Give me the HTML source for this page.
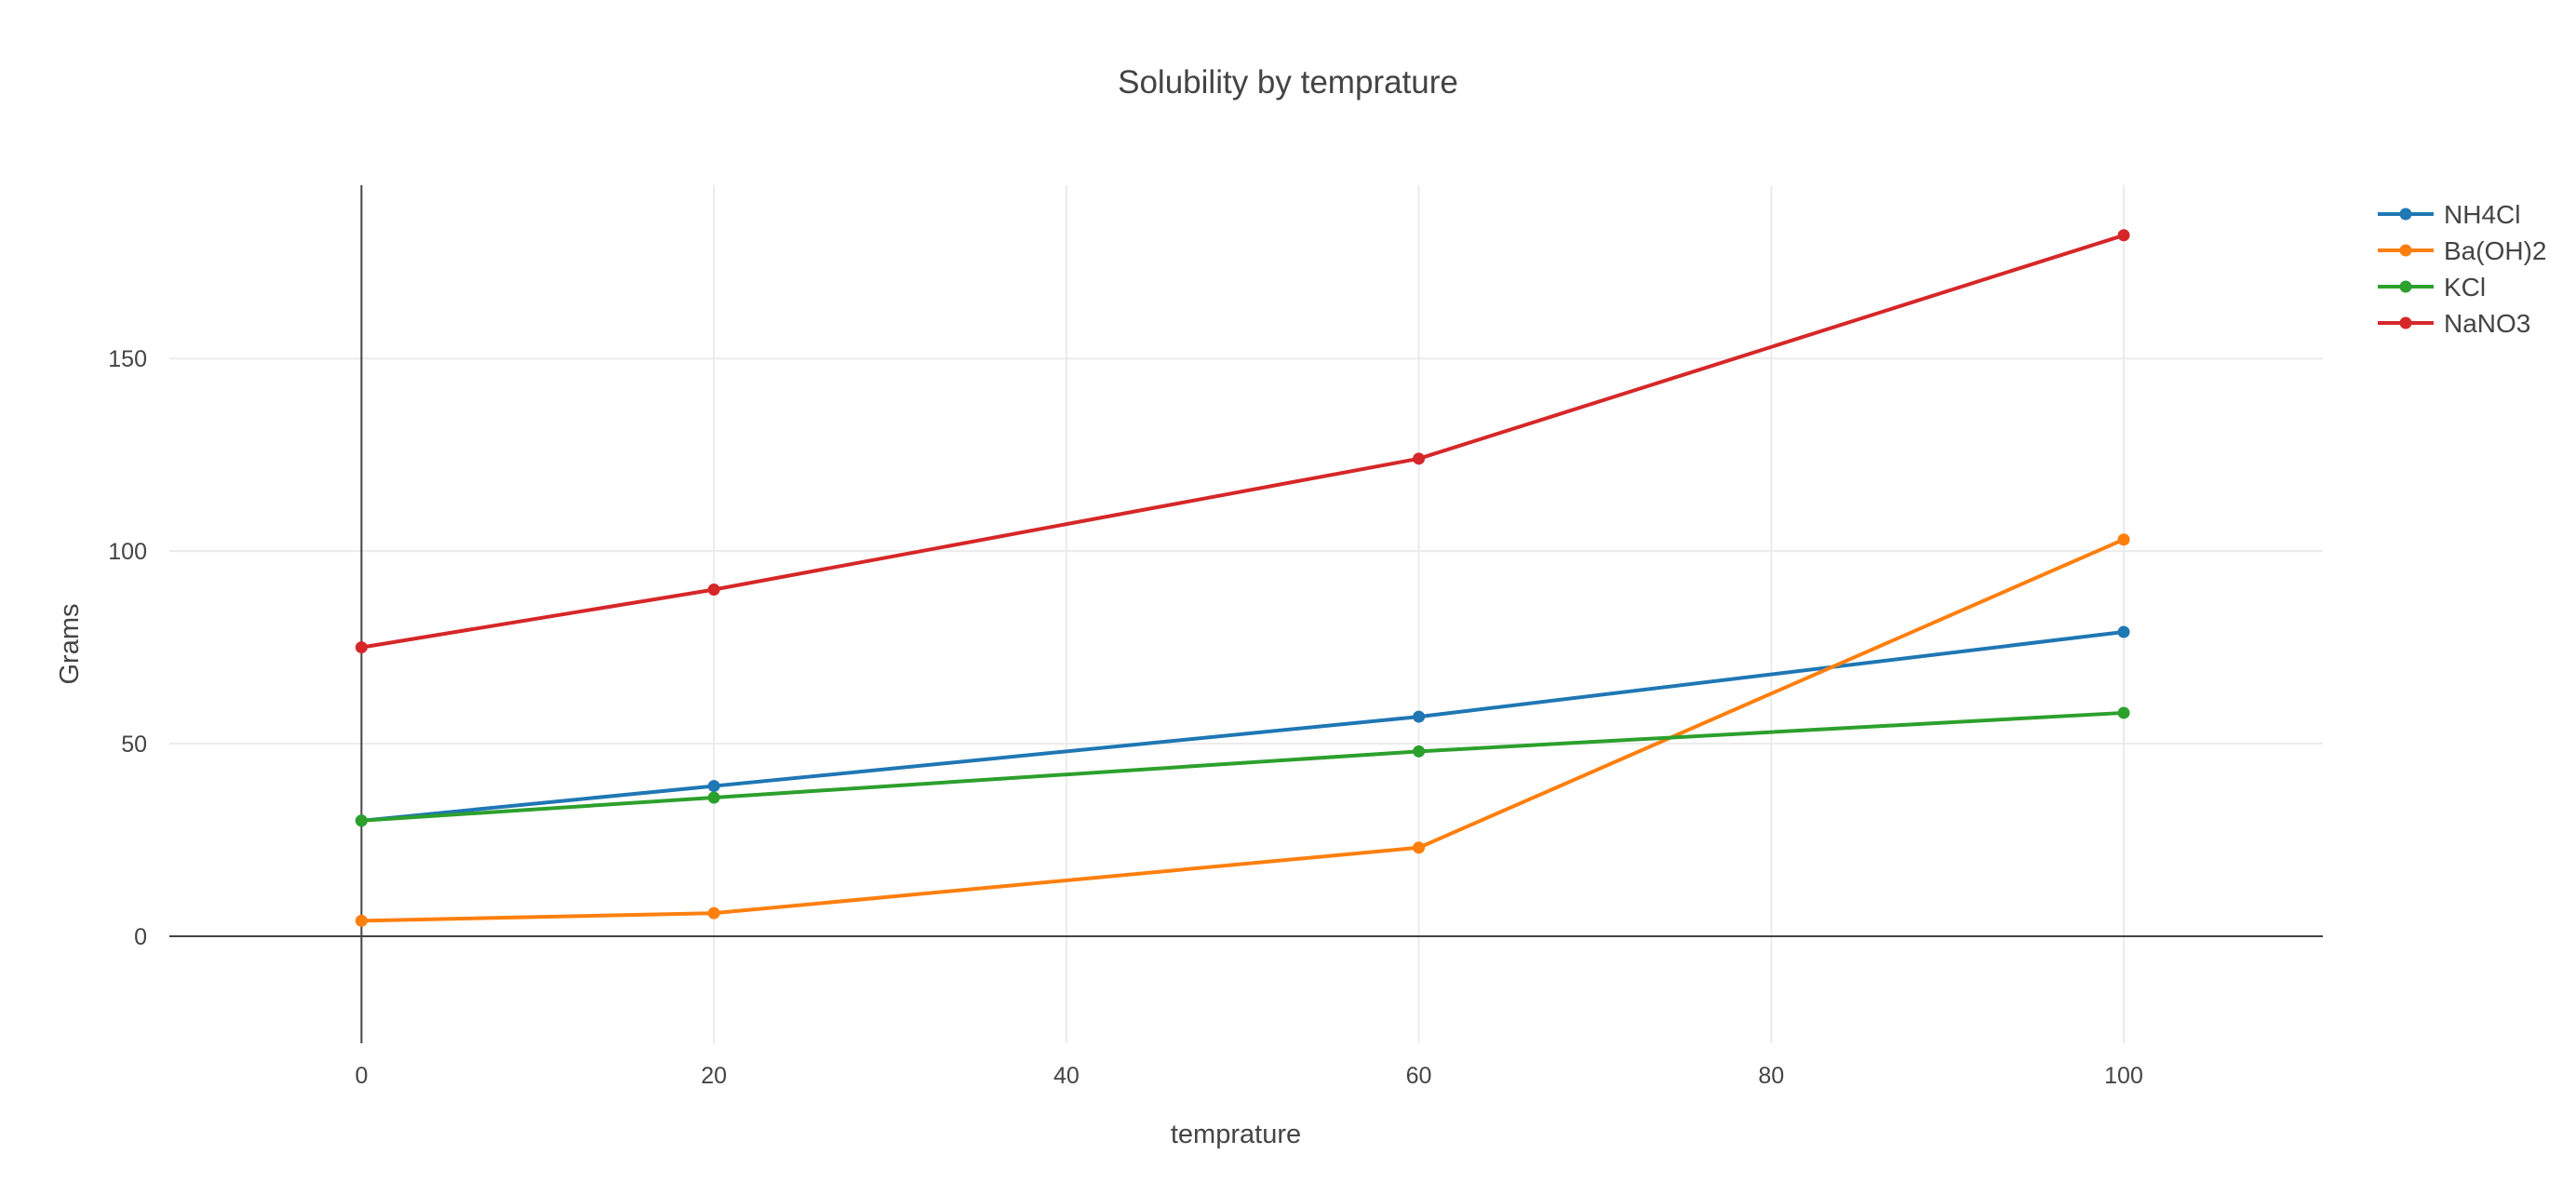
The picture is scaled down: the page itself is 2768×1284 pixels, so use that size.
<!DOCTYPE html>
<html><head><meta charset="utf-8"><style>
html,body{margin:0;padding:0;background:#fff;}
svg{display:block;font-family:"Liberation Sans",sans-serif;}
</style></head><body>
<svg id="chart" width="2768" height="1284" viewBox="0 0 2768 1284" xmlns="http://www.w3.org/2000/svg">
<rect width="2768" height="1284" fill="#fff"/>
<text x="1384" y="100" text-anchor="middle" font-size="35" fill="#444">Solubility by temprature</text>
<g id="grid"></g><g id="axes"></g><g id="series"></g><g id="legend"></g>
<text x="1328" y="1228" text-anchor="middle" font-size="29" fill="#444">temprature</text>
<text transform="translate(84,692) rotate(-90)" text-anchor="middle" font-size="29" fill="#444">Grams</text>
</svg>
<script>
const categories = [0, 20, 60, 100];
const seriesNames = ["NH4Cl", "Ba(OH)2", "KCl", "NaNO3"];
const nh4cl = [30, 39, 57, 79];
const baoh2 = [4, 6, 23, 103];
const kcl = [30, 36, 48, 58];
const nano3 = [75, 90, 124, 182];
const xTicks = [0, 20, 40, 60, 80, 100];
const yTicks = [0, 50, 100, 150];

const NS = "http://www.w3.org/2000/svg";
const colors = ["#1f77b4", "#ff7f0e", "#2ca02c", "#d62728"];
const L = 182, R = 2496, T = 199, B = 1121;
const xMin = -10.9, xMax = 111.3, yMin = -27.8, yMax = 195;
const xs = v => L + (v - xMin) / (xMax - xMin) * (R - L);
const ys = v => B - (v - yMin) / (yMax - yMin) * (B - T);
function mk(tag, attrs, parent) {
  const e = document.createElementNS(NS, tag);
  for (const k in attrs) e.setAttribute(k, attrs[k]);
  parent.appendChild(e);
  return e;
}
const grid = document.getElementById('grid'), axes = document.getElementById('axes');
xTicks.forEach(t => {
  if (t !== 0) {
    const g = mk('line', {x1: xs(t), x2: xs(t), y1: T, y2: B, stroke: '#ebebeb', 'stroke-width': 2}, grid);
    
    
  }
  const lb = mk('text', {x: xs(t), y: B + 43, 'text-anchor': 'middle', 'font-size': 25, fill: '#444'}, axes);
  lb.textContent = t;
  
  
});
yTicks.forEach(t => {
  if (t !== 0) {
    const g = mk('line', {x1: L, x2: R, y1: ys(t), y2: ys(t), stroke: '#ebebeb', 'stroke-width': 2}, grid);
    
    
  }
  const lb = mk('text', {x: L - 24, y: ys(t) + 9, 'text-anchor': 'end', 'font-size': 25, fill: '#444'}, axes);
  lb.textContent = t;
  
  
});
const zx = mk('line', {x1: L, x2: R, y1: ys(0), y2: ys(0), stroke: '#444', 'stroke-width': 2}, axes);


const zy = mk('line', {x1: xs(0), x2: xs(0), y1: T, y2: B, stroke: '#444', 'stroke-width': 2}, axes);



const allSeries = [nh4cl, baoh2, kcl, nano3];
const sg = document.getElementById('series');
allSeries.forEach((vals, i) => {
  const pts = vals.map((v, j) => xs(categories[j]) + ',' + ys(v)).join(' ');
  const pl = mk('polyline', {points: pts, fill: 'none', stroke: colors[i], 'stroke-width': 4, 'stroke-linejoin': 'round'}, sg);
  
  
  vals.forEach((v, j) => {
    const c = mk('circle', {cx: xs(categories[j]), cy: ys(v), r: 6.5, fill: colors[i]}, sg);
    
    
  });
});
const lg = document.getElementById('legend');
seriesNames.forEach((n, i) => {
  const y = 230 + i * 39;
  const g = mk('g', {}, lg);
  
  
  mk('line', {x1: 2555, x2: 2615, y1: y, y2: y, stroke: colors[i], 'stroke-width': 4}, g);
  mk('circle', {cx: 2585, cy: y, r: 6.5, fill: colors[i]}, g);
  const t = mk('text', {x: 2626, y: y + 10, 'font-size': 28, fill: '#444'}, g);
  t.textContent = n;
});
</script>
</body></html>
